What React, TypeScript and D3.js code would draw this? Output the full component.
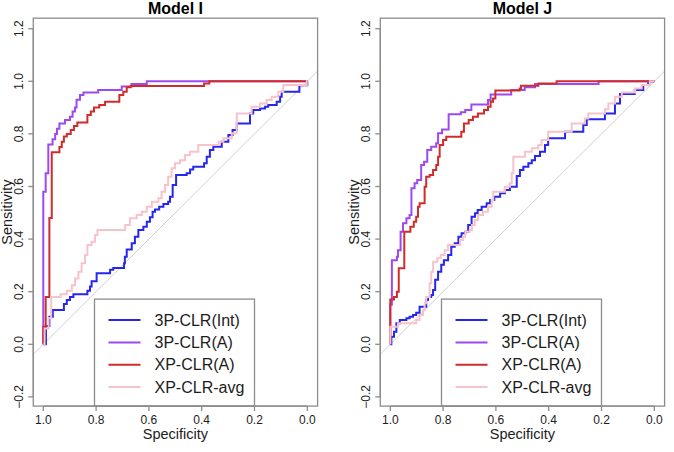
import * as d3 from 'd3'

const W = 674
const H = 452

const titles = ['Model I', 'Model J']
const methods = ['3P-CLR(Int)', '3P-CLR(A)', 'XP-CLR(A)', 'XP-CLR-avg']
const colors = ['#2626ee', '#9c4af0', '#d02c2c', '#f6c3cb']
const xTicks = [1.0, 0.8, 0.6, 0.4, 0.2, 0.0]
const yTicks = [-0.2, 0.0, 0.2, 0.4, 0.6, 0.8, 1.0, 1.2]

// ROC step corners, [1 - specificity, sensitivity]
const intI = [
  [0, 0], [0.01, 0.07], [0.023, 0.105], [0.036, 0.13], [0.078, 0.153], [0.089, 0.168],
  [0.101, 0.18], [0.114, 0.19], [0.167, 0.204], [0.177, 0.22], [0.183, 0.24], [0.202, 0.27],
  [0.253, 0.283], [0.265, 0.29], [0.306, 0.308], [0.309, 0.333], [0.316, 0.36], [0.335, 0.384],
  [0.347, 0.409], [0.36, 0.435], [0.379, 0.447], [0.392, 0.466], [0.404, 0.483], [0.414, 0.504],
  [0.423, 0.513], [0.439, 0.523], [0.455, 0.533], [0.473, 0.542], [0.48, 0.561], [0.49, 0.606],
  [0.503, 0.644], [0.543, 0.65], [0.556, 0.665], [0.568, 0.675], [0.609, 0.688], [0.619, 0.713],
  [0.631, 0.739], [0.644, 0.751], [0.676, 0.77], [0.701, 0.796], [0.717, 0.815], [0.733, 0.84],
  [0.783, 0.878], [0.795, 0.891], [0.821, 0.897], [0.84, 0.903], [0.852, 0.91], [0.884, 0.922],
  [0.897, 0.941], [0.903, 0.96], [0.97, 0.985], [1, 1],
]
const aI = [
  [0, 0], [0, 0.58], [0.009, 0.65], [0.019, 0.76], [0.035, 0.78], [0.045, 0.8], [0.052, 0.82],
  [0.061, 0.84], [0.082, 0.853], [0.101, 0.865], [0.111, 0.885], [0.12, 0.9], [0.126, 0.93],
  [0.139, 0.948], [0.152, 0.957], [0.208, 0.967], [0.297, 0.98], [0.334, 0.99], [0.392, 1], [1, 1],
]
const xaI = [
  [0, 0], [0, 0.067], [0.009, 0.18], [0.023, 0.48], [0.032, 0.73], [0.061, 0.75], [0.07, 0.77],
  [0.078, 0.79], [0.089, 0.8], [0.104, 0.815], [0.116, 0.83], [0.129, 0.843], [0.167, 0.872],
  [0.18, 0.885], [0.192, 0.9], [0.212, 0.91], [0.234, 0.922], [0.288, 0.948], [0.303, 0.96],
  [0.316, 0.977], [0.331, 0.982], [0.609, 0.992], [0.629, 1], [1, 1],
]
const avgI = [
  [0, 0], [0.005, 0.06], [0.02, 0.1], [0.03, 0.18], [0.065, 0.19], [0.089, 0.204], [0.108, 0.225],
  [0.12, 0.25], [0.133, 0.276], [0.145, 0.308], [0.158, 0.34], [0.167, 0.378], [0.183, 0.39],
  [0.196, 0.416], [0.205, 0.435], [0.31, 0.454], [0.328, 0.479], [0.354, 0.492], [0.373, 0.504],
  [0.392, 0.523], [0.411, 0.542], [0.436, 0.555], [0.448, 0.58], [0.461, 0.606], [0.473, 0.637],
  [0.486, 0.669], [0.499, 0.688], [0.518, 0.7], [0.537, 0.72], [0.556, 0.732], [0.587, 0.758],
  [0.664, 0.77], [0.682, 0.783], [0.714, 0.802], [0.733, 0.878], [0.789, 0.903], [0.821, 0.916],
  [0.846, 0.929], [0.865, 0.941], [0.89, 0.96], [0.909, 0.986], [0.998, 1], [1, 1],
]

const intJ = [
  [0, 0], [0.004, 0.029], [0.014, 0.048], [0.023, 0.08], [0.036, 0.092], [0.061, 0.099],
  [0.073, 0.105], [0.086, 0.111], [0.098, 0.12], [0.111, 0.143], [0.136, 0.168], [0.143, 0.18],
  [0.155, 0.187], [0.162, 0.206], [0.17, 0.245], [0.181, 0.276], [0.193, 0.302], [0.203, 0.32],
  [0.219, 0.34], [0.231, 0.371], [0.244, 0.384], [0.258, 0.409], [0.27, 0.422], [0.284, 0.428],
  [0.295, 0.454], [0.308, 0.485], [0.321, 0.498], [0.331, 0.511], [0.346, 0.523], [0.365, 0.536],
  [0.378, 0.549], [0.394, 0.561], [0.416, 0.574], [0.434, 0.587], [0.453, 0.599], [0.479, 0.64],
  [0.491, 0.663], [0.504, 0.675], [0.523, 0.688], [0.536, 0.7], [0.548, 0.716], [0.567, 0.732],
  [0.586, 0.758], [0.598, 0.783], [0.662, 0.808], [0.731, 0.834], [0.744, 0.856], [0.813, 0.878],
  [0.851, 0.916], [0.87, 0.952], [0.926, 0.967], [0.958, 0.986], [0.977, 1], [1, 1],
]
const aJ = [
  [0, 0], [0, 0.15], [0.006, 0.32], [0.025, 0.333], [0.029, 0.358], [0.039, 0.428], [0.048, 0.46],
  [0.061, 0.479], [0.073, 0.492], [0.08, 0.593], [0.092, 0.612], [0.102, 0.625], [0.117, 0.682],
  [0.128, 0.694], [0.14, 0.739], [0.155, 0.751], [0.174, 0.764], [0.181, 0.802], [0.196, 0.817],
  [0.221, 0.875], [0.267, 0.882], [0.284, 0.891], [0.307, 0.912], [0.37, 0.929], [0.38, 0.95],
  [0.458, 0.967], [0.509, 0.977], [0.548, 0.99], [0.789, 1], [1, 1],
]
const xaJ = [
  [0, 0], [0, 0.17], [0.014, 0.18], [0.025, 0.2], [0.032, 0.289], [0.053, 0.428], [0.076, 0.447],
  [0.089, 0.466], [0.098, 0.485], [0.105, 0.523], [0.111, 0.536], [0.13, 0.599], [0.136, 0.637],
  [0.149, 0.644], [0.162, 0.663], [0.174, 0.682], [0.181, 0.713], [0.187, 0.758], [0.2, 0.777],
  [0.212, 0.789], [0.269, 0.808], [0.279, 0.84], [0.297, 0.853], [0.313, 0.865], [0.332, 0.878],
  [0.355, 0.891], [0.37, 0.903], [0.38, 0.922], [0.389, 0.935], [0.398, 0.965], [0.49, 0.973],
  [0.495, 0.983], [0.561, 0.992], [0.63, 1], [1, 1],
]
const avgJ = [
  [0, 0], [0, 0.067], [0.029, 0.08], [0.098, 0.092], [0.111, 0.111], [0.124, 0.13], [0.13, 0.156],
  [0.136, 0.18], [0.149, 0.232], [0.155, 0.276], [0.162, 0.314], [0.178, 0.327], [0.191, 0.34],
  [0.206, 0.358], [0.219, 0.378], [0.264, 0.397], [0.275, 0.409], [0.284, 0.428], [0.301, 0.435],
  [0.309, 0.454], [0.32, 0.473], [0.332, 0.492], [0.351, 0.504], [0.37, 0.523], [0.384, 0.549],
  [0.39, 0.58], [0.434, 0.599], [0.453, 0.612], [0.46, 0.65], [0.466, 0.713], [0.51, 0.732],
  [0.536, 0.745], [0.561, 0.758], [0.573, 0.777], [0.598, 0.808], [0.687, 0.84], [0.737, 0.859],
  [0.75, 0.878], [0.813, 0.894], [0.826, 0.916], [0.851, 0.941], [0.877, 0.957], [0.927, 0.973],
  [0.952, 0.986], [0.983, 1], [1, 1],
]

const curves = [
  [intI, aI, xaI, avgI],
  [intJ, aJ, xaJ, avgJ],
]

const boxColor = '#8c8c8c'
const textColor = '#1c1c1c'
const font = '"Liberation Sans", Arial, Helvetica, sans-serif'

function Panel({ title, series, dx }: { title: string; series: number[][][]; dx: number }) {
  const x = d3.scaleLinear().domain([1, 0]).range([43.3 + dx, 307.3 + dx])
  const y = d3.scaleLinear().domain([0, 1]).range([344.3, 81.3])

  // plot region (pROC-style square panel)
  const xl = x(1.038), xr = x(-0.039)
  const yt = y(1.24), yb = y(-0.235)
  const clipId = `clip-${dx}`

  const roc = d3.line<number[]>()
    .x(d => x(1 - d[0]))
    .y(d => y(d[1]))
    .curve(d3.curveStepAfter)

  const fmt = d3.format('.1f')

  // legend anchored at specificity 0.2, bottom of the plot
  const legW = 160, legH = 107
  const legR = x(0.2)
  const legL = legR - legW
  const legT = yb - legH

  return (
    <g>
      <clipPath id={clipId}>
        <rect x={xl} y={yt} width={xr - xl} height={yb - yt} />
      </clipPath>

      <text x={(xl + xr) / 2} y={14} textAnchor='middle' fontSize={16} fontWeight='bold'
        fill='#000' fontFamily={font}>{title}</text>

      {/* chance diagonal */}
      <line x1={x(1.1)} y1={y(-0.1)} x2={x(-0.1)} y2={y(1.1)} stroke='#cfcfd4' strokeWidth={1}
        clipPath={`url(#${clipId})`} />

      <g clipPath={`url(#${clipId})`}>
        {series.map((s, i) => (
          <path key={i} d={roc(s) ?? ''} fill='none' stroke={colors[i]} strokeWidth={2} />
        ))}
      </g>

      {/* legend */}
      <rect x={legL} y={legT} width={legW} height={legH} fill='#fff' stroke={boxColor} strokeWidth={1.3} />
      {methods.map((m, i) => {
        const ry = legT + 21 + i * 22.3
        return (
          <g key={m}>
            <line x1={legL + 14} x2={legL + 46} y1={ry} y2={ry} stroke={colors[i]} strokeWidth={2} />
            <text x={legL + 60} y={ry + 5.5} fontSize={16} fill={textColor} fontFamily={font}>{m}</text>
          </g>
        )
      })}

      {/* frame */}
      <rect x={xl} y={yt} width={xr - xl} height={yb - yt} fill='none' stroke={boxColor} strokeWidth={1.3} />

      {/* x axis */}
      <line x1={x(1)} x2={x(0)} y1={yb} y2={yb} stroke={boxColor} strokeWidth={1.3} />
      {xTicks.map(t => (
        <g key={t}>
          <line x1={x(t)} x2={x(t)} y1={yb} y2={yb + 5} stroke={boxColor} strokeWidth={1.3} />
          <text x={x(t)} y={yb + 18} textAnchor='middle' fontSize={12} fill={textColor} fontFamily={font}>
            {fmt(t)}
          </text>
        </g>
      ))}
      <text x={(xl + xr) / 2} y={yb + 33} textAnchor='middle' fontSize={14.5} fill={textColor}
        fontFamily={font}>Specificity</text>

      {/* y axis */}
      <line x1={xl} x2={xl} y1={y(-0.2)} y2={y(1.2)} stroke={boxColor} strokeWidth={1.3} />
      {yTicks.map(t => (
        <g key={t}>
          <line x1={xl - 5} x2={xl} y1={y(t)} y2={y(t)} stroke={boxColor} strokeWidth={1.3} />
          <text transform={`translate(${xl - 10},${y(t)}) rotate(-90)`} textAnchor='middle' fontSize={12}
            fill={textColor} fontFamily={font}>{fmt(t)}</text>
        </g>
      ))}
      <text transform={`translate(${xl - 21},${(yt + yb) / 2}) rotate(-90)`} textAnchor='middle'
        fontSize={14.5} fill={textColor} fontFamily={font}>Sensitivity</text>
    </g>
  )
}

export default function App() {
  return (
    <svg width={W} height={H} style={{ position: 'absolute', left: 0, top: 0, background: '#fff' }}>
      {titles.map((t, i) => (
        <Panel key={t} title={t} series={curves[i]} dx={i * 347} />
      ))}
    </svg>
  )
}
